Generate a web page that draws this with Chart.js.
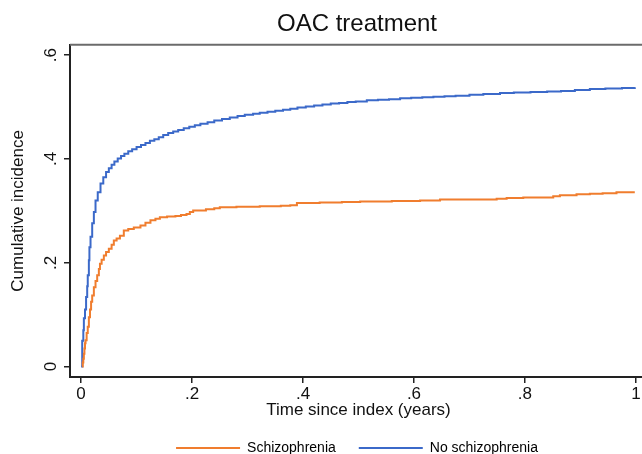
<!DOCTYPE html>
<html>
<head>
<meta charset="utf-8">
<script src="https://cdn.jsdelivr.net/npm/chart.js@4.4.0/dist/chart.umd.min.js"></script>
<style>
html, body { margin: 0; padding: 0; overflow: hidden; background: #fff; }
</style>
</head>
<body>
<canvas id="chart" width="714" height="465"></canvas>
<script>
// values (time in years, cumulative incidence)
const noSchizTime = [0, 0.002, 0.004, 0.005, 0.007, 0.009, 0.011, 0.012, 0.014, 0.015, 0.017, 0.020, 0.023, 0.026, 0.030, 0.035, 0.040, 0.045, 0.050, 0.055, 0.060, 0.066, 0.072, 0.078, 0.085, 0.092, 0.100, 0.108, 0.116, 0.124, 0.132, 0.140, 0.148, 0.157, 0.166, 0.175, 0.185, 0.195, 0.205, 0.215, 0.228, 0.240, 0.254, 0.268, 0.282, 0.295, 0.310, 0.322, 0.336, 0.350, 0.364, 0.377, 0.390, 0.405, 0.420, 0.435, 0.450, 0.465, 0.480, 0.495, 0.515, 0.535, 0.555, 0.575, 0.595, 0.615, 0.635, 0.655, 0.675, 0.700, 0.725, 0.755, 0.780, 0.810, 0.840, 0.865, 0.890, 0.917, 0.945, 0.975, 0.998];
const noSchizCum = [0, 0.050, 0.070, 0.093, 0.110, 0.134, 0.155, 0.176, 0.205, 0.230, 0.250, 0.276, 0.298, 0.320, 0.336, 0.353, 0.365, 0.375, 0.382, 0.389, 0.395, 0.401, 0.406, 0.410, 0.415, 0.419, 0.423, 0.427, 0.431, 0.435, 0.438, 0.442, 0.446, 0.450, 0.453, 0.456, 0.459, 0.462, 0.465, 0.468, 0.471, 0.474, 0.477, 0.480, 0.483, 0.485, 0.487, 0.489, 0.491, 0.493, 0.495, 0.497, 0.499, 0.501, 0.503, 0.505, 0.507, 0.508, 0.510, 0.511, 0.513, 0.514, 0.515, 0.517, 0.518, 0.519, 0.520, 0.521, 0.522, 0.524, 0.525, 0.527, 0.528, 0.529, 0.530, 0.531, 0.533, 0.535, 0.536, 0.537, 0.538];

const schizTime = [0.002, 0.003, 0.004, 0.005, 0.006, 0.007, 0.008, 0.010, 0.012, 0.014, 0.016, 0.018, 0.020, 0.023, 0.026, 0.029, 0.032, 0.034, 0.037, 0.041, 0.045, 0.050, 0.055, 0.059, 0.064, 0.070, 0.077, 0.085, 0.095, 0.107, 0.116, 0.125, 0.134, 0.142, 0.155, 0.170, 0.180, 0.190, 0.196, 0.202, 0.225, 0.240, 0.250, 0.280, 0.322, 0.360, 0.377, 0.389, 0.430, 0.470, 0.503, 0.560, 0.611, 0.647, 0.749, 0.767, 0.797, 0.851, 0.863, 0.893, 0.917, 0.940, 0.965, 0.998];
const schizCum = [0, 0.008, 0.015, 0.025, 0.035, 0.045, 0.051, 0.065, 0.077, 0.095, 0.110, 0.125, 0.137, 0.153, 0.165, 0.176, 0.188, 0.198, 0.206, 0.214, 0.221, 0.227, 0.235, 0.243, 0.247, 0.252, 0.262, 0.265, 0.268, 0.272, 0.277, 0.282, 0.285, 0.288, 0.289, 0.290, 0.292, 0.294, 0.298, 0.301, 0.303, 0.305, 0.307, 0.308, 0.309, 0.310, 0.311, 0.315, 0.316, 0.317, 0.318, 0.319, 0.320, 0.322, 0.3235, 0.325, 0.326, 0.328, 0.330, 0.332, 0.333, 0.334, 0.336, 0.336];

const xTicks = [0, 0.2, 0.4, 0.6, 0.8, 1];
const xTickLabels = ['0', '.2', '.4', '.6', '.8', '1'];
const yTicks = [0, 0.2, 0.4, 0.6];
const yTickLabels = ['0', '.2', '.4', '.6'];

const FONT = "'Liberation Sans', Arial, sans-serif";
const ORANGE = '#f07d2e';
const BLUE = '#3b69c9';

function toPoints(xs, ys) {
    return xs.map((x, i) => ({ x: x, y: ys[i] }));
}

// top frame line and rotated y tick labels (Stata style)
const stataBits = {
    id: 'stataBits',
    afterDraw(chart) {
        const ctx = chart.ctx;
        const area = chart.chartArea;
        ctx.save();
        ctx.strokeStyle = '#6b6b6b';
        ctx.lineWidth = 2;
        ctx.beginPath();
        ctx.moveTo(area.left, area.top);
        ctx.lineTo(area.right, area.top);
        ctx.stroke();

        const y = chart.scales.y;
        ctx.fillStyle = '#111';
        ctx.font = '17px ' + FONT;
        ctx.textAlign = 'center';
        ctx.textBaseline = 'alphabetic';
        yTicks.forEach((v, i) => {
            ctx.save();
            ctx.translate(56, y.getPixelForValue(v));
            ctx.rotate(-Math.PI / 2);
            ctx.fillText(yTickLabels[i], 0, 0);
            ctx.restore();
        });
        ctx.restore();
    }
};

new Chart(document.getElementById('chart'), {
    type: 'line',
    data: {
        datasets: [{
            label: 'Schizophrenia',
            data: toPoints(schizTime, schizCum),
            borderColor: ORANGE,
            backgroundColor: ORANGE,
            borderWidth: 2,
            pointRadius: 0,
            stepped: true,
            fill: false
        }, {
            label: 'No schizophrenia',
            data: toPoints(noSchizTime, noSchizCum),
            borderColor: BLUE,
            backgroundColor: BLUE,
            borderWidth: 2,
            pointRadius: 0,
            stepped: true,
            fill: false
        }]
    },
    options: {
        responsive: false,
        animation: false,
        layout: { padding: 0 },
        plugins: {
            title: {
                display: true,
                text: 'OAC treatment',
                color: '#111',
                font: { family: FONT, size: 24, weight: 'normal' },
                padding: { top: 10, bottom: 6 }
            },
            legend: {
                position: 'bottom',
                labels: {
                    color: '#111',
                    font: { family: FONT, size: 14 },
                    boxWidth: 64,
                    boxHeight: 2,
                    padding: 23,
                    generateLabels: chart => chart.data.datasets.map((ds, i) => ({
                        text: ds.label,
                        fillStyle: ds.borderColor,
                        strokeStyle: ds.borderColor,
                        lineWidth: 0,
                        datasetIndex: i
                    }))
                }
            },
            tooltip: { enabled: false }
        },
        scales: {
            x: {
                type: 'linear',
                min: -0.02,
                max: 1.02,
                afterBuildTicks: scale => { scale.ticks = xTicks.map(v => ({ value: v })); },
                afterFit: scale => { scale.height = 41; },
                ticks: {
                    color: '#111',
                    font: { family: FONT, size: 17 },
                    padding: 1,
                    maxRotation: 0,
                    callback: value => xTickLabels[xTicks.indexOf(value)]
                },
                grid: { drawOnChartArea: false, drawTicks: true, tickLength: 6, color: '#222', lineWidth: 1.5 },
                border: { display: true, color: '#222', width: 2 },
                title: {
                    display: true,
                    text: 'Time since index (years)',
                    color: '#111',
                    font: { family: FONT, size: 17 },
                    padding: { top: 0, bottom: -3 }
                }
            },
            y: {
                type: 'linear',
                min: -0.02,
                max: 0.62,
                afterBuildTicks: scale => { scale.ticks = yTicks.map(v => ({ value: v })); },
                afterFit: scale => { scale.width = 70; },
                ticks: { display: false },
                grid: { drawOnChartArea: false, drawTicks: true, tickLength: 6, color: '#222', lineWidth: 1.5 },
                border: { display: true, color: '#222', width: 2 },
                title: {
                    display: true,
                    text: 'Cumulative incidence',
                    color: '#111',
                    font: { family: FONT, size: 17 },
                    padding: { top: 8, bottom: 0 }
                }
            },
            // empty margin on the right so the plot ends past the window edge
            yRight: {
                type: 'linear',
                position: 'right',
                min: 0,
                max: 1,
                afterFit: scale => { scale.width = 67; },
                ticks: { display: false },
                grid: { display: false },
                border: { display: false }
            }
        }
    },
    plugins: [stataBits]
});
</script>
</body>
</html>
